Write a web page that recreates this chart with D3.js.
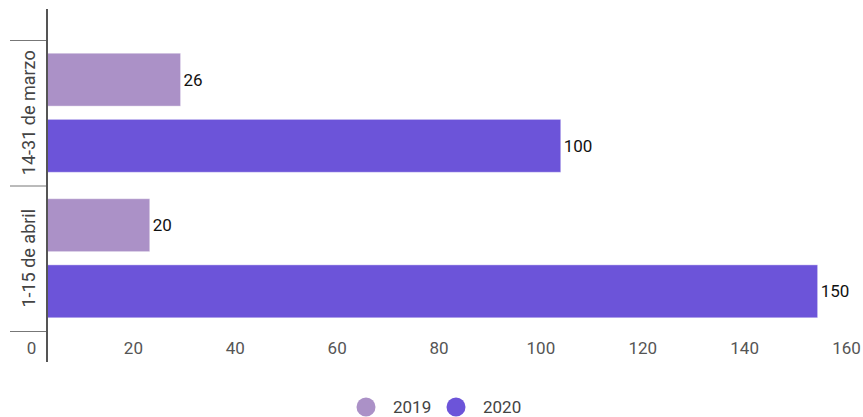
<!DOCTYPE html>
<html>
<head>
<meta charset="utf-8">
<script src="https://cdn.jsdelivr.net/npm/d3@7"></script>
<style>
  html, body { margin: 0; padding: 0; background: #fff; }
  svg { display: block; font-family: Roboto, "Noto Sans", sans-serif; }
</style>
</head>
<body>
<svg id="chart" width="863" height="417"></svg>
<script>
const categories = ["14-31 de marzo", "1-15 de abril"];
const seriesNames = ["2019", "2020"];
const values2019 = [26, 20];
const values2020 = [100, 150];
const tickValues = [0, 20, 40, 60, 80, 100, 120, 140, 160];
const colors = ["#ab91c7", "#6c54d9"];

const data = categories.map((c, i) => ({
  category: c,
  values: [
    { series: seriesNames[0], value: values2019[i] },
    { series: seriesNames[1], value: values2020[i] }
  ]
}));

const svg = d3.select("#chart");
const axisX = 47;

const x = d3.scaleLinear().domain([0, 160]).range([axisX, axisX + 822]);
const xLabel = d3.scaleLinear().domain([0, 160]).range([31, 846]);
const y0 = d3.scaleBand().domain(categories).range([40, 331]).paddingInner(0).paddingOuter(0);
const y1 = d3.scaleBand().domain(seriesNames).range([0, y0.bandwidth()]).paddingInner(0.2).paddingOuter(0.2);
const color = d3.scaleOrdinal().domain(seriesNames).range(colors);

// category separator ticks
const sepYs = [y0.range()[0], ...categories.map(c => y0(c) + y0.bandwidth())];
svg.append("g").selectAll("line").data(sepYs).join("line")
  .attr("x1", 10).attr("x2", axisX)
  .attr("y1", d => d + 0.5).attr("y2", d => d + 0.5)
  .attr("stroke", "#777").attr("stroke-width", 1);

// bars
const groups = svg.append("g").selectAll("g").data(data).join("g")
  .attr("transform", d => `translate(0,${y0(d.category)})`);

groups.selectAll("rect").data(d => d.values).join("rect")
  .attr("x", x(0))
  .attr("y", d => y1(d.series))
  .attr("width", d => x(d.value) - x(0))
  .attr("height", y1.bandwidth())
  .attr("fill", d => color(d.series))
  .attr("stroke", "#ffffff")
  .attr("stroke-opacity", 0.4)
  .attr("stroke-width", 1);

groups.selectAll("text.val").data(d => d.values).join("text")
  .attr("class", "val")
  .attr("x", d => x(d.value) + 3)
  .attr("y", d => y1(d.series) + y1.bandwidth() / 2)
  .attr("dy", "0.35em")
  .attr("font-size", 17)
  .attr("fill", "#111")
  .text(d => d.value);

// category labels
svg.append("g").selectAll("text").data(categories).join("text")
  .attr("transform", d => `translate(35,${y0(d) + y0.bandwidth() / 2}) rotate(-90)`)
  .attr("text-anchor", "middle")
  .attr("font-size", 18)
  .attr("fill", "#444")
  .text(d => d);

// vertical axis line
svg.append("line")
  .attr("x1", axisX).attr("x2", axisX)
  .attr("y1", 9).attr("y2", 362)
  .attr("stroke", "#555").attr("stroke-width", 2);

// x axis tick labels
const xAxis = d3.axisBottom(xLabel).tickValues(tickValues).tickSize(0).tickPadding(0);
const gx = svg.append("g").attr("transform", "translate(0,342)").call(xAxis);
gx.select(".domain").remove();
gx.selectAll("text")
  .attr("font-family", "Roboto, sans-serif")
  .attr("font-size", 17)
  .attr("fill", "#555")
  .attr("dy", "0.71em");

// legend
const legendItems = [
  { name: seriesNames[0], cx: 366, tx: 393 },
  { name: seriesNames[1], cx: 456, tx: 483 }
];
const lg = svg.append("g");
lg.selectAll("circle").data(legendItems).join("circle")
  .attr("cx", d => d.cx).attr("cy", 407).attr("r", 9.5)
  .attr("fill", d => color(d.name));
lg.selectAll("text").data(legendItems).join("text")
  .attr("x", d => d.tx).attr("y", 407).attr("dy", "0.35em")
  .attr("font-size", 17).attr("fill", "#444")
  .text(d => d.name);
</script>
</body>
</html>
